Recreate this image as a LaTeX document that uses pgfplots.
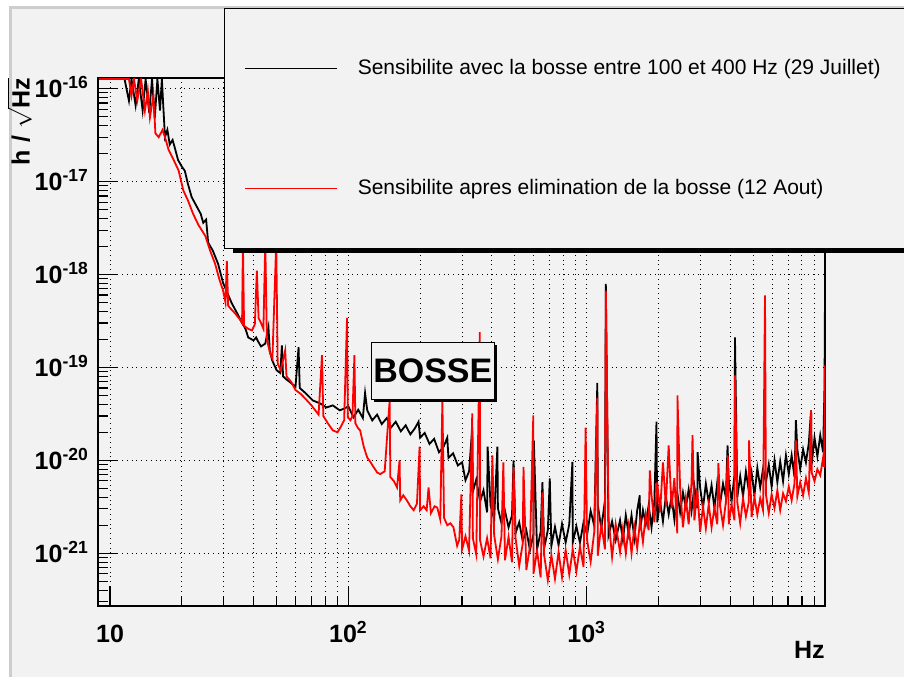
\documentclass[border=0pt]{standalone}
\usepackage{pgfplots}
\pgfplotsset{compat=1.18}
\usepackage{fontspec}
\setmainfont{Liberation Sans}
\usetikzlibrary{shadows}
\definecolor{bg}{HTML}{F2F2F2}
\definecolor{framec}{HTML}{CDCDCD}
\begin{document}
\begin{tikzpicture}
\useasboundingbox (0,0) rectangle (452pt,338.5pt);
\fill[white] (0,0) rectangle (452pt,338.5pt);
\fill[bg] (5pt,0) rectangle (452pt,335pt);
\draw[framec, line width=1.5pt] (5pt,0) -- (5pt,335pt) -- (453pt,335pt);
\begin{axis}[
  at={(49pt,35.5pt)}, anchor=south west,
  scale only axis, width=363.5pt, height=264pt,
  xmode=log, ymode=log,
  xmin=8.9, xmax=10000, ymin=2.7e-22, ymax=1.3e-16,
  axis line style={line width=0.9pt},
  tick align=inside, xtick pos=left, ytick pos=left,
  major tick length=10pt, minor tick length=5pt,
  tick style={black, line width=0.6pt},
  xmajorgrids, xminorgrids, ymajorgrids,
  major grid style={black, dotted, line width=0.5pt},
  minor grid style={black, dotted, line width=0.5pt},
  xtick={10,100,1000},
  xticklabels={10,10\textsuperscript{2},10\textsuperscript{3}},
  minor xtick={20,30,40,50,60,70,80,90,200,300,400,500,600,700,800,900,2000,3000,4000,5000,6000,7000,8000,9000},
  ytick={1e-21,1e-20,1e-19,1e-18,1e-17,1e-16},
  yticklabels={10\textsuperscript{-21},10\textsuperscript{-20},10\textsuperscript{-19},10\textsuperscript{-18},10\textsuperscript{-17},10\textsuperscript{-16}},
  minor ytick={3e-22,4e-22,5e-22,6e-22,7e-22,8e-22,9e-22,2e-21,3e-21,4e-21,5e-21,6e-21,7e-21,8e-21,9e-21,2e-20,3e-20,4e-20,5e-20,6e-20,7e-20,8e-20,9e-20,2e-19,3e-19,4e-19,5e-19,6e-19,7e-19,8e-19,9e-19,2e-18,3e-18,4e-18,5e-18,6e-18,7e-18,8e-18,9e-18,2e-17,3e-17,4e-17,5e-17,6e-17,7e-17,8e-17,9e-17},
  tick label style={font=\bfseries\fontsize{12.5}{14}\selectfont, inner sep=0pt},
  xticklabel style={anchor=base, yshift=-18pt},
  yticklabel style={anchor=base east, xshift=-4.4pt, yshift=-4.5pt},
  xlabel={Hz},
  xlabel style={at={(rel axis cs:1,-0.0833)}, anchor=east, inner sep=0pt, font=\bfseries\fontsize{12.5}{14}\selectfont},
  ylabel={h / $\sqrt{\mbox{\bfseries Hz}}$},
  ylabel style={at={(rel axis cs:-0.108,1.0)}, anchor=east, inner sep=0pt, font=\bfseries\fontsize{12.5}{14}\selectfont},
  legend cell align=left,
  legend image code/.code={\draw[#1, line width=0.6pt] (0pt,0pt) -- (46pt,0pt);},
  legend style={at={(0.1733,1.1326)}, anchor=north west, draw=black, line width=0.6pt, fill=bg,
    inner xsep=10pt, inner ysep=25pt, row sep=50pt, column sep=10pt,
    nodes={inner sep=0pt, text height=8pt, text depth=2pt},
    font=\fontsize{10.5}{12.6}\selectfont},
]
\addplot[black, line width=0.9pt] table {
f h
9 1.27e-16
11.5 1.27e-16
12.0 7.4e-17
12.3 1.27e-16
12.8 6.6e-17
13.2 1.27e-16
13.7 5.8e-17
14.1 1.27e-16
14.6 5.5e-17
15.0 1.27e-16
15.4 4.8e-17
15.8 1.27e-16
16.2 5.8e-17
16.5 1.27e-16
16.7 6.9e-17
17.0 3.0e-17
17.4 3.6e-17
17.8 2.5e-17
18.3 2.8e-17
18.7 2.3e-17
19.3 1.7e-17
20.0 1.45e-17
20.6 1.3e-17
21.2 9.5e-18
22.0 6.8e-18
23.0 5.5e-18
24.0 4.5e-18
24.6 3.6e-18
25.3 3.9e-18
25.8 2.2e-18
27.0 1.8e-18
28.4 1.3e-18
29.8 8.1e-19
31.0 6.4e-19
32.4 4.9e-19
34.0 3.9e-19
35.8 3.0e-19
37.0 2.6e-19
38.0 2.1e-19
40.0 1.95e-19
41.0 2.1e-19
41.8 1.9e-19
43.0 1.68e-19
44.8 1.8e-19
46.2 2.7e-19
46.8 1.5e-19
47.9 1.19e-19
50.0 9.3e-20
51.8 8.7e-20
52.6 1.72e-19
53.2 8.0e-20
55.0 7.4e-20
57.0 6.9e-20
60.0 6.2e-20
61.8 1.65e-19
62.5 6.0e-20
66.0 5.3e-20
71.0 4.4e-20
76.0 4.1e-20
81.0 3.7e-20
86.0 3.9e-20
92.0 3.45e-20
96.0 3.6e-20
100 3.8e-20
105 2.9e-20
110 3.5e-20
115 2.85e-20
117.5 5.3e-20
120 3.45e-20
126 2.69e-20
132 3.1e-20
138 2.45e-20
145 2.85e-20
151 2.25e-20
158 2.6e-20
166 2.05e-20
174 2.38e-20
182 1.9e-20
190 2.2e-20
197 2.6e-20
200 1.75e-20
209 1.97e-20
219 1.5e-20
229 1.7e-20
240 1.22e-20
251 1.4e-20
260 1.75e-20
263 1.06e-20
275 1.19e-20
288 8.8e-21
300 9.5e-21
310 6.1e-21
321 7.6e-21
331 2.25e-20
333 4.6e-21
344 6.2e-21
357 3.6e-21
369 4.75e-21
382 2.75e-21
384 1.4e-20
395 3.28e-21
409 2.3e-21
422 1.4e-20
424 3.05e-21
439 2.1e-21
454 2.85e-21
470 1.9e-21
486 2.56e-21
493 1.0e-20
503 1.65e-21
521 2.15e-21
539 1.35e-21
558 1.77e-21
578 1.08e-21
598 1.6e-21
600 1.64e-20
619 1.1e-21
641 1.7e-21
652 5.8e-21
663 1.13e-21
687 1.77e-21
700 6.4e-21
711 1.2e-21
736 1.92e-21
762 1.22e-21
788 2.07e-21
816 1.3e-21
845 2.05e-21
871 9.6e-21
874 1.3e-21
905 1.95e-21
937 1.3e-21
970 2.15e-21
1004 1.58e-21
1039 2.85e-21
1076 1.97e-21
1108 6.8e-20
1113 3.3e-21
1152 1.85e-21
1193 3.71e-21
1203 7.9e-19
1235 1.56e-21
1278 2.2e-21
1323 1.38e-21
1380 2.26e-21
1419 1.38e-21
1459 2.56e-21
1500 1.6e-21
1542 2.56e-21
1585 1.45e-21
1629 2.9e-21
1670 4.2e-21
1675 1.77e-21
1722 2.9e-21
1770 2.05e-21
1820 3.28e-21
1871 1.9e-21
1923 3.62e-21
1963 2.6e-20
1977 2.15e-21
2032 3.62e-21
2089 2.2e-21
2148 4.1e-21
2208 2.62e-21
2270 4.1e-21
2333 2.3e-21
2399 4.5e-21
2466 2.75e-21
2535 4.5e-21
2606 3.1e-21
2679 4.85e-21
2754 2.85e-21
2831 5.2e-21
2911 3.05e-21
2920 1.22e-20
2992 5.1e-21
3076 3.05e-21
3162 5.6e-21
3251 3.54e-21
3342 5.38e-21
3436 3.05e-21
3532 5.8e-21
3631 3.45e-21
3733 5.6e-21
3837 4.0e-21
3900 1.45e-20
3945 6.25e-21
4055 3.62e-21
4169 6.9e-21
4190 2.1e-19
4285 4.0e-21
4406 6.75e-21
4529 4.1e-21
4656 7.6e-21
4786 4.75e-21
4920 7.4e-21
5058 4.2e-21
5200 8.3e-21
5346 5.1e-21
5495 8.1e-21
5649 5.8e-21
5808 9.0e-21
5970 5.2e-21
6138 1.0e-20
6310 5.8e-21
6486 9.75e-21
6668 5.95e-21
6855 1.13e-20
7047 7.1e-21
7244 1.13e-20
7447 6.6e-21
7550 2.7e-20
7656 1.31e-20
7870 8.0e-21
8091 1.31e-20
8318 9.5e-21
8551 1.53e-20
8740 3.45e-20
8790 9.0e-21
9036 1.75e-20
9290 1.1e-20
9550 1.86e-20
9817 1.22e-20
9950 6.2e-20
10000 6.7e-19
};
\addlegendentry{Sensibilite avec la bosse entre 100 et 400 Hz (29 Juillet)\hspace*{20pt}}
\addplot[red, line width=0.9pt] table {
f h
9 1.27e-16
12.0 1.27e-16
12.3 8.4e-17
12.6 1.27e-16
13.0 7.4e-17
13.5 1.27e-16
14.0 5.8e-17
14.4 9.5e-17
14.7 4.9e-17
15.2 8.4e-17
15.5 3.3e-17
16.0 3.0e-17
16.6 3.6e-17
17.0 3.0e-17
17.6 2.2e-17
18.5 1.7e-17
19.4 1.31e-17
20.3 8.0e-18
21.2 6.3e-18
22.3 4.5e-18
23.5 3.4e-18
25.1 2.6e-18
26.3 1.8e-18
27.6 1.3e-18
28.7 9.0e-19
29.8 6.7e-19
30.5 5.0e-19
30.9 1.4e-18
31.3 4.6e-19
32.3 4.2e-19
33.5 3.8e-19
35.0 3.3e-19
35.8 3.0e-19
36.1 2.2e-18
36.5 2.8e-19
38.0 2.6e-19
39.4 2.5e-19
40.5 2.9e-19
41.3 1.1e-18
42.0 3.4e-19
43.0 3.0e-19
44.0 2.6e-19
44.8 2.2e-18
45.5 2.0e-19
47.0 1.4e-19
48.0 1.25e-19
49.8 2.2e-18
50.5 1.1e-19
52.0 9.3e-20
54.3 1.52e-19
55.0 8.0e-20
57.5 7.0e-20
60.0 5.7e-20
63.0 5.2e-20
66.0 4.6e-20
70.0 3.9e-20
75.0 3.1e-20
77.5 1.35e-19
78.5 3.0e-20
82.0 2.5e-20
86.0 2.1e-20
90.0 2.0e-20
93.0 2.3e-20
96.0 2.7e-20
98.7 3.4e-19
99.5 2.9e-20
102 2.7e-20
104 3.0e-20
106 1.35e-19
107 2.5e-20
110 2.2e-20
112 2.1e-20
116 1.4e-20
120 1.07e-20
124 9.5e-21
127 8.6e-21
132 7.4e-21
136 7.1e-21
142 7.6e-21
149 4.4e-20
150 6.6e-21
155 6.0e-21
160 5.1e-21
164 1.0e-20
165 3.7e-21
170 4.2e-21
176 3.7e-21
182 3.2e-21
188 2.9e-21
194 3.4e-21
199 1.4e-20
200 2.9e-21
207 3.2e-21
213 2.9e-21
217 5.1e-21
222 2.7e-21
230 3.2e-21
236 3.1e-21
243 2.3e-21
248 4.4e-20
252 2.4e-21
260 2.0e-21
268 2.1e-21
276 1.9e-21
286 1.2e-21
292 1.4e-21
298 4.3e-21
300 1.1e-21
310 1.52e-21
321 1.06e-21
331 3.2e-20
333 1.45e-21
344 9.7e-22
356 2.4e-19
357 1.38e-21
369 9.2e-22
382 1.45e-21
395 8.8e-22
402 1.13e-20
409 1.56e-21
424 8.6e-22
439 1.52e-21
447 9.5e-21
454 8.4e-22
470 1.5e-21
486 8.0e-22
493 8.5e-21
503 1.45e-21
521 7.3e-22
539 1.27e-21
543 8.5e-21
558 6.6e-22
578 1.17e-21
597 3.05e-20
598 6.0e-22
619 1.06e-21
641 5.5e-22
652 4.5e-21
663 9.5e-22
687 5.13e-22
711 9.5e-22
736 5.3e-22
762 1.03e-21
788 5.5e-22
816 1.08e-21
845 5.9e-22
874 1.1e-21
905 6.35e-22
937 1.17e-21
970 7.1e-22
990 2.25e-20
1004 1.38e-21
1039 8.1e-22
1076 1.7e-21
1108 4.7e-20
1113 9.4e-22
1152 2.05e-21
1193 1.1e-21
1203 6.7e-19
1235 2.35e-21
1278 9.1e-22
1323 2.05e-21
1380 1.03e-21
1419 1.85e-21
1459 1.0e-21
1500 1.95e-21
1542 1.0e-21
1585 1.9e-21
1629 1.13e-21
1675 2.26e-21
1722 1.32e-21
1770 2.62e-21
1820 1.77e-21
1840 7.8e-21
1871 4.2e-21
1923 2.15e-21
1977 5.8e-21
2032 2.75e-21
2089 9.5e-21
2148 3.28e-21
2208 1.45e-20
2270 3.05e-21
2333 6.4e-21
2399 1.64e-21
2403 5.0e-20
2466 5.0e-21
2535 1.9e-21
2606 3.9e-21
2679 2.05e-21
2754 5.8e-21
2780 1.86e-20
2831 2.26e-21
2911 4.75e-21
2992 1.7e-21
3076 3.2e-21
3162 1.85e-21
3251 3.36e-21
3342 1.9e-21
3436 3.1e-21
3532 2.05e-21
3570 9.3e-21
3631 3.2e-21
3733 2.0e-21
3837 3.54e-21
3910 1.13e-20
3945 2.05e-21
4055 3.36e-21
4169 2.26e-21
4190 8.2e-20
4285 3.54e-21
4406 2.1e-21
4529 3.9e-21
4656 2.5e-21
4786 3.54e-21
4800 1.64e-20
4920 2.45e-21
5058 4.0e-21
5200 2.62e-21
5346 3.9e-21
5495 2.9e-21
5600 5.94e-19
5649 4.3e-21
5808 2.7e-21
5970 4.3e-21
6138 3.05e-21
6310 4.75e-21
6486 2.9e-21
6668 4.4e-21
6855 3.62e-21
7047 5.2e-21
7244 3.71e-21
7447 5.6e-21
7550 1.64e-20
7656 4.1e-21
7870 5.8e-21
8091 4.2e-21
8318 6.4e-21
8551 4.5e-21
8740 3.45e-20
8790 7.4e-21
9036 5.95e-21
9290 8.0e-21
9550 6.9e-21
9817 1.07e-20
9900 8.5e-21
9950 2.69e-20
10000 1.05e-19
};
\addlegendentry{Sensibilite apres elimination de la bosse (12 Aout)}
\node[draw=black, line width=0.6pt, fill=bg, inner sep=0pt,
  minimum width=61.5pt, minimum height=28.5pt,
  drop shadow={shadow xshift=1.6pt, shadow yshift=-1.6pt, fill=black, opacity=1},
  font=\bfseries\fontsize{17}{20}\selectfont] at (axis cs:226,9.2e-20) {BOSSE};
\end{axis}
\fill[black] (116.5pt,211.8pt) rectangle (460pt,214.2pt);
\end{tikzpicture}
\end{document}
